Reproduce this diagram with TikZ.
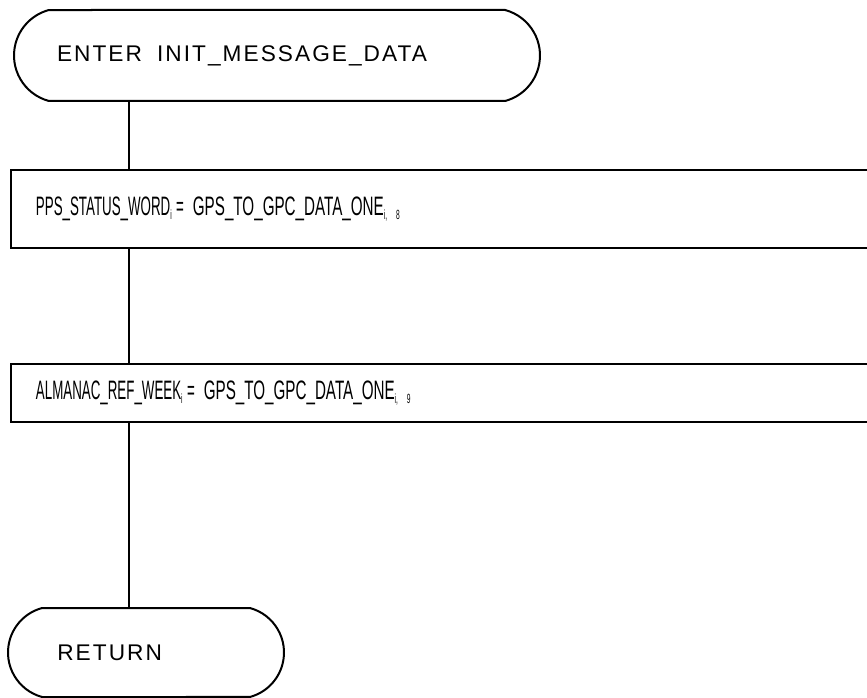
\documentclass[tikz,border=0pt]{standalone}
\usepackage{fontspec}
\setmainfont{Liberation Sans}
\newfontfamily\spacedfont[LetterSpace=9]{Liberation Sans}
\newfontfamily\narrowfont[FakeStretch=0.50]{Liberation Sans}
\newfontfamily\widerfont[FakeStretch=0.57]{Liberation Sans}
\usetikzlibrary{shapes.misc}
\newcommand{\sbs}[1]{\raisebox{-0.3ex}{\fontsize{10}{10}\selectfont #1}}
\tikzset{
  term/.style={draw, line width=1.5pt, rounded rectangle, rounded rectangle arc length=150,
    inner sep=0pt, align=left, font=\spacedfont\fontsize{17}{19}\selectfont},
  procbox/.style={draw, line width=1.7pt, rectangle, anchor=west, inner ysep=0pt,
    inner xsep=19pt, text width=620pt, align=left, minimum height=58.5pt,
    font=\narrowfont\fontsize{20}{22}\selectfont},
  flow/.style={line width=1.5pt}
}
\begin{document}
\begin{tikzpicture}[x=0.75pt,y=-0.75pt]
\useasboundingbox (0,0) rectangle (867,698);
\clip (0,0) rectangle (867,698);
\node[term, minimum width=394.5pt, minimum height=68.25pt, text width=330pt] (enter) at (277,55.5) {ENTER\ \ INIT\_MESSAGE\_DATA};
\node[procbox] (b1) at (9.5,209) {PPS\_STATUS\_WORD\sbs{i}\,= {\widerfont GPS\_TO\_GPC\_DATA\_ONE}\sbs{i,\ 8}};
\node[procbox, minimum height=43.5pt] (b2) at (9.5,393) {ALMANAC\_REF\_WEEK\sbs{i}\,= {\widerfont GPS\_TO\_GPC\_DATA\_ONE}\sbs{i,\ 9}};
\node[term, minimum width=207pt, minimum height=66.75pt, text width=133pt] (ret) at (146,652.5) {RETURN};
\draw[flow] (enter.south -| 129,0) -- (b1.north -| 129,0);
\draw[flow] (b1.south -| 129,0) -- (b2.north -| 129,0);
\draw[flow] (b2.south -| 129,0) -- (ret.north -| 129,0);
\end{tikzpicture}
\end{document}
